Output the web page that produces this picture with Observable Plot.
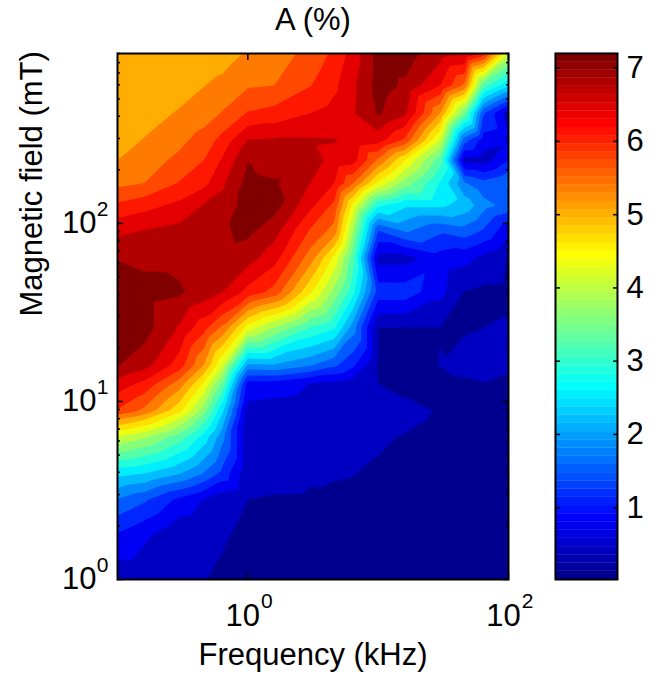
<!DOCTYPE html>
<html><head><meta charset="utf-8">
<script src="https://cdn.jsdelivr.net/npm/d3@7"></script>
<script src="https://cdn.jsdelivr.net/npm/@observablehq/plot@0.6"></script>
<style>html,body{margin:0;padding:0;background:#fff}
#c{position:relative;width:667px;height:674px}
#c svg{position:absolute;top:0;background:transparent}</style></head>
<body><div id="c"></div>
<script>
const freq=[0.1,0.16,0.3,0.46,0.64,1,1.6,3,4.6,6.4,10,16,30,46,64,100];
const field=[1,1.8,2.8,3.9,6.3,8,8.9,10,12.6,16,26,41,64,92,126,168,226,293,415,596,900];
// one array per frequency, values from field=1 upward
const a0=[.5,1.08,1.78,2.62,4.27,5.47,6.1,6.3,6.7,7.22,7.4,7.4,7.18,6.73,6.2,5.68,5.41,5.25,5.2,5.2,5.2];
const a1=[.48,.83,1.52,2.5,4.02,5.12,5.7,5.92,6.39,7.0,7.35,7.35,7.1,6.84,6.35,5.77,5.6,5.43,5.25,5.2,5.2];
const a2=[.44,.47,1.0,2.16,3.42,4.32,4.8,5.06,5.6,6.3,6.8,7.25,7.1,6.94,6.58,6.15,5.86,5.68,5.45,5.25,5.2];
const a3=[.39,.45,.72,1.77,2.74,3.44,3.8,4.07,4.65,5.4,6.25,7.05,7.05,7.0,6.87,6.38,6.12,5.92,5.6,5.4,5.2];
const a4=[.34,.41,.48,1.33,1.93,2.37,2.6,2.9,3.55,4.35,5.7,6.84,7.1,7.15,7.0,6.77,6.53,6.25,5.8,5.5,5.25];
const a5=[.24,.32,.38,.46,.47,.49,.5,.74,.95,2.1,4.55,6.35,7.0,7.3,7.35,7.32,7.2,6.86,6.15,5.73,5.45];
const a6=[.2,.28,.36,.45,.5,.55,.6,.7,.95,2.14,3.95,5.98,6.63,7.0,7.35,7.25,7.0,6.88,6.25,5.77,5.6];
const a7=[.15,.25,.36,.40,.46,.52,.55,.62,.73,1.86,3.25,4.75,5.6,6.1,6.58,6.84,7.0,6.88,6.48,6.1,5.88];
const a8=[.1,.2,.36,.387,.42,.48,.5,.55,.65,1.54,2.95,3.85,4.6,5.65,6.03,6.48,6.72,6.86,6.62,6.4,6.2];
const a9=[.08,.15,.36,.3825,.42,.46,.48,.5,.55,1.18,2.0,3.0,3.4,4.0,4.6,5.78,6.63,6.77,6.8,6.77,6.63];
const a10=[.07,.15,.3,.36,.40,.46,.46,.44,.38,.37,.375,1.3,.6,1.5,2.95,4.6,5.7,6.63,7.25,7.35,7.35];
const a11=[.05,.07,.12,.2,.37,.42,.42,.39,.33,.3,.375,1.3,.6,1.9,2.6,3.8,4.7,6.05,6.92,7.15,7.35];
const a12=[.05,.06,.1,.15,.3,.36,.37,.35,.32,.385,.375,.85,.95,1.55,2.6,2.85,3.4,4.3,5.4,6.48,6.97];
const a13=[.05,.06,.08,.12,.2,.25,.27,.3,.35,.45,.36,.36,.85,1.7,2.4,1.85,.6,1.6,3.6,5.7,6.87];
const a14=[.05,.06,.08,.1,.18,.22,.26,.3,.375,.45,.38,.3,.65,1.45,1.95,1.6,.55,.95,1.5,3.42,6.35];
const a15=[.05,.06,.08,.1,.15,.2,.22,.25,.33,.42,.43,.3,.36,.85,1.7,1.85,1.1,.8,.55,2.6,4.3];
const amplitude=[a0,a1,a2,a3,a4,a5,a6,a7,a8,a9,a10,a11,a12,a13,a14,a15];
const levels=[.02,.38,.74,1.10,1.46,1.82,2.17,2.53,2.89,3.25,3.61,3.97,4.33,4.69,5.05,5.41,5.77,6.12,6.48,6.84,7.20];
const xTicks=[1,100], xExp=["0","2"];
const yMajor=[1,10,100], yExp=["0","1","2"];
const yMinor=[2,3,4,5,6,7,8,9,20,30,40,50,60,70,80,90,200,300,400,500,600,700,800,900];
const barTicks=[1,2,3,4,5,6,7];
const cRange=[0.02,7.2];
const clamp=v=>Math.max(0,Math.min(1,v));
const jet=t=>{const u=t*63/64+1/64;
  return `rgb(${Math.round(255*clamp(1.5-Math.abs(4*u-3)))},${Math.round(255*clamp(1.5-Math.abs(4*u-2)))},${Math.round(255*clamp(1.5-Math.abs(4*u-1)))})`;};
const rows=freq.flatMap((f,i)=>field.map((b,j)=>({f,b,v:amplitude[i][j]})));
const font="'Liberation Sans',Arial,sans-serif";
const fs=31, fe=21;
const tk={fill:"none",label:null,strokeWidth:1.5,stroke:"#000"};
const main=Plot.plot({
  width:545,height:674,
  marginLeft:117,marginRight:37,marginTop:53,marginBottom:95,
  style:{fontFamily:font,background:"transparent"},
  x:{type:"log",domain:[0.1,100],axis:null},
  y:{type:"log",domain:[1,900],axis:null},
  color:{type:"linear",domain:cRange,interpolate:jet},
  marks:[
    Plot.contour(rows,{x:"f",y:"b",fill:"v",thresholds:levels,interpolate:"barycentric",pixelSize:1,stroke:"none"}),
    Plot.axisX({anchor:"bottom",ticks:xTicks,tickSize:6,inset:6,...tk}),
    Plot.axisX({anchor:"top",ticks:xTicks,tickSize:6,inset:6,...tk}),
    Plot.axisY({anchor:"left",ticks:yMajor,tickSize:6,inset:6,...tk}),
    Plot.axisY({anchor:"right",ticks:yMajor,tickSize:6,inset:6,...tk}),
    Plot.axisY({anchor:"left",ticks:yMinor,tickSize:3,inset:3,...tk}),
    Plot.axisY({anchor:"right",ticks:yMinor,tickSize:3,inset:3,...tk}),
    Plot.frame({stroke:"#000",strokeWidth:2}),
    Plot.text(xTicks,{x:d=>d,text:()=>"10",frameAnchor:"bottom",lineAnchor:"middle",dy:37,dx:-5,fontSize:fs,fill:"#000"}),
    Plot.text(xTicks,{x:d=>d,text:(d,i)=>xExp[i],frameAnchor:"bottom",lineAnchor:"middle",dy:22,dx:19,fontSize:fe,fill:"#000"}),
    Plot.text(yMajor,{y:d=>d,text:()=>"10",frameAnchor:"left",dx:-21,textAnchor:"end",fontSize:fs,fill:"#000"}),
    Plot.text(yMajor,{y:d=>d,text:(d,i)=>yExp[i],frameAnchor:"left",dx:-9,textAnchor:"end",fontSize:fe,fill:"#000",dy:-14}),
    Plot.text(["Frequency (kHz)"],{frameAnchor:"bottom",lineAnchor:"middle",dy:76,fontSize:fs,fill:"#000"}),
    Plot.text(["A (%)"],{frameAnchor:"top",lineAnchor:"middle",dy:-33,fontSize:fs,fill:"#000"}),
    Plot.text(["Magnetic field (mT)"],{frameAnchor:"left",lineAnchor:"middle",rotate:-90,dx:-85,fontSize:fs,fill:"#000"})
  ]
});
const bands=d3.range(64);
const bandStep=(cRange[1]-cRange[0])/64;
const bar=Plot.plot({
  width:122,height:674,
  marginLeft:10,marginRight:50,marginTop:53,marginBottom:95,
  style:{fontFamily:font,background:"transparent"},
  x:{domain:[0,1],axis:null},
  y:{domain:cRange,axis:null},
  color:{type:"linear",domain:[0,63],interpolate:jet},
  marks:[
    Plot.rect(bands,{x1:()=>0,x2:()=>1,y1:d=>cRange[0]+d*bandStep,y2:d=>cRange[0]+(d+1)*bandStep,fill:d=>d,stroke:d=>d,strokeWidth:.3}),
    Plot.axisY({anchor:"left",ticks:barTicks,tickSize:5,inset:5,...tk}),
    Plot.axisY({anchor:"right",ticks:barTicks,tickSize:5,inset:5,...tk}),
    Plot.frame({stroke:"#000",strokeWidth:2}),
    Plot.text(barTicks,{y:d=>d,text:d=>String(d),frameAnchor:"right",dx:9,textAnchor:"start",fontSize:fs,fill:"#000"})
  ]
});
main.style.left="0px";bar.style.left="545px";
const c=document.getElementById("c");c.append(main,bar);
</script></body></html>
